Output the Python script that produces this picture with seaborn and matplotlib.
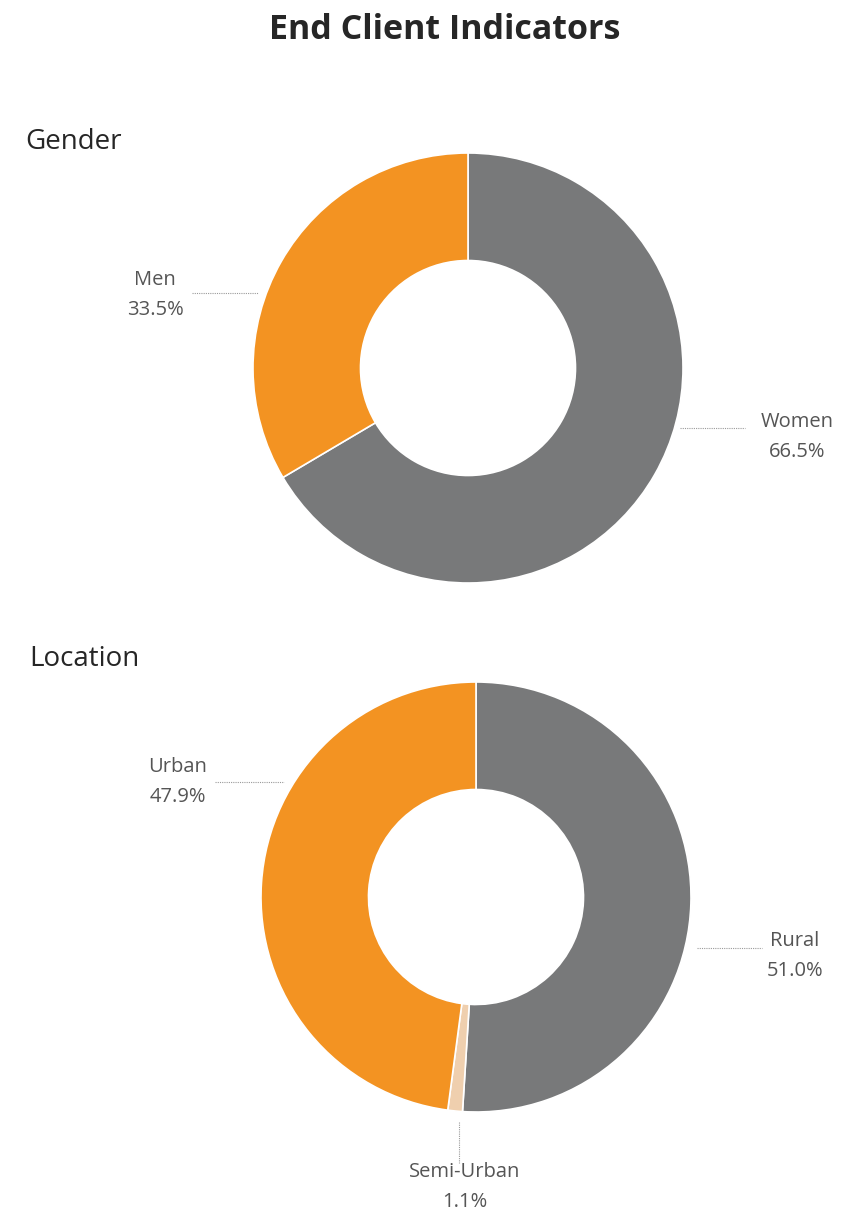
import matplotlib
matplotlib.use('Agg')
import matplotlib.pyplot as plt
import seaborn as sns

# data
gender_labels = ['Women', 'Men']
gender_values = [66.5, 33.5]
location_labels = ['Rural', 'Semi-Urban', 'Urban']
location_values = [51.0, 1.1, 47.9]

ORANGE = '#F39322'
GREY = '#78797A'
PEACH = '#EFCFAE'
TEXT = '#555555'

gender_colors = [GREY, ORANGE]
location_colors = [GREY, PEACH, ORANGE]

sns.set_theme(style='white')
plt.rcParams['font.family'] = ['Open Sans', 'DejaVu Sans']

W, H = 861, 1215
fig = plt.figure(figsize=(W / 100, H / 100), dpi=100)

R = 215  # donut radius in px
L = 1.3  # axis half-range in radius units


def make_ax(cx, cy):
    # cx, cy: donut centre in pixels from top-left
    size = 2 * L * R
    ax = fig.add_axes([(cx - size / 2) / W, (H - cy - size / 2) / H, size / W, size / H])
    return ax


def donut(ax, values, colors, labels, label_layout):
    ax.pie(values, colors=colors, startangle=90, counterclock=False,
           wedgeprops=dict(width=0.5, edgecolor='white', linewidth=1.2))
    # pie resets the limits, so set them afterwards
    ax.set_xlim(-L, L)
    ax.set_ylim(-L, L)
    ax.set_aspect('equal')
    ax.axis('off')
    for lab, val, (tx, ty, lx0, lx1, ly0, ly1) in zip(labels, values, label_layout):
        ax.text(tx, ty, f"{lab}\n{val:.1f}%", ha='center', va='center',
                fontsize=14.5, color=TEXT, linespacing=1.65)
        ax.plot([lx0, lx1], [ly0, ly1], color='#9a9a9a', lw=0.8,
                linestyle=(0, (1, 1)), clip_on=False)


fig.text(445 / W, 1 - 30 / H, 'End Client Indicators', ha='center', va='center',
         fontsize=24.5, fontweight='bold', color='#262626')
fig.text(25 / W, 1 - 142 / H, 'Gender', ha='left', va='center', fontsize=20, color='#262626')
fig.text(29 / W, 1 - 659 / H, 'Location', ha='left', va='center', fontsize=20, color='#262626')

ax1 = make_ax(468, 368)
donut(ax1, gender_values, gender_colors, gender_labels, [
    (1.530, -0.321, 0.986, 1.288, -0.279, -0.279),
    (-1.456, 0.340, -1.284, -0.977, 0.349, 0.349),
])

ax2 = make_ax(476, 897)
donut(ax2, location_values, location_colors, location_labels, [
    (1.484, -0.274, 1.028, 1.330, -0.237, -0.237),
    (-0.051, -1.350, -0.079, -0.079, -1.047, -1.237),
    (-1.386, 0.535, -1.214, -0.893, 0.535, 0.535),
])

fig.savefig('out.png', dpi=100)
